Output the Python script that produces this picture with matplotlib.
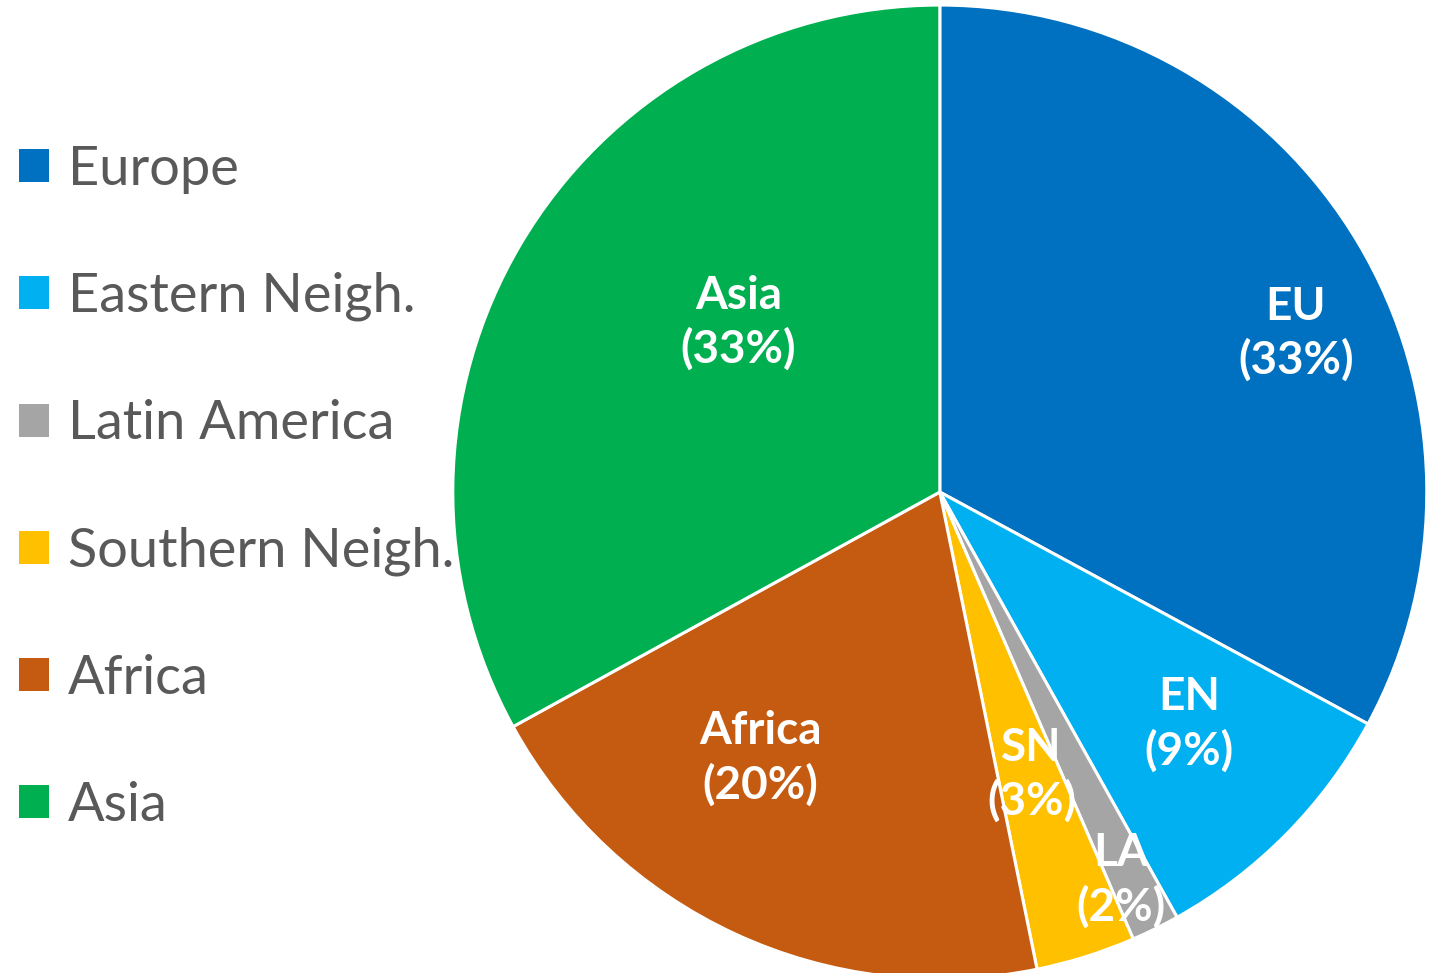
import numpy as np
import matplotlib
matplotlib.use('Agg')
import matplotlib.pyplot as plt
from matplotlib.patches import Patch

plt.rcParams['font.family'] = ['Lato', 'DejaVu Sans']

regions = ['Europe', 'Eastern Neigh.', 'Latin America', 'Southern Neigh.', 'Africa', 'Asia']
short = ['EU', 'EN', 'LA', 'SN', 'Africa', 'Asia']
shares = [32.9, 9.0, 1.6, 3.3, 20.2, 33.0]
pct_text = ['33%', '9%', '2%', '3%', '20%', '33%']
colors = ['#0070C0', '#00B0F0', '#A5A5A5', '#FFC000', '#C55A11', '#00B050']

# label placement: angle clockwise from top (deg), radius fraction
label_pos = [(66, 0.80), (133, 0.70), (155, 0.88), (162, 0.61), (214, 0.66), (310, 0.54)]

fig = plt.figure(figsize=(14.37, 9.73), dpi=100)
ax = fig.add_axes([0.654 - 0.339, 0.4943 - 0.5005, 0.678, 1.001])

wedges, _ = ax.pie(shares, colors=colors, startangle=90, counterclock=False,
                   wedgeprops=dict(edgecolor='white', linewidth=2.2))
ax.set_xlim(-1, 1)
ax.set_ylim(-1, 1)
ax.set_aspect('equal')

for (ang, rr), s, p in zip(label_pos, short, pct_text):
    t = np.deg2rad(90 - ang)
    ax.text(rr * np.cos(t), rr * np.sin(t), f'{s}\n({p})', ha='center', va='center',
            color='white', fontsize=33, fontweight='bold', linespacing=1.3)

handles = [Patch(facecolor=c, edgecolor='none') for c in colors]
leg = fig.legend(handles, regions, loc='center left', bbox_to_anchor=(0.0, 0.499),
                 frameon=False, fontsize=39, handlelength=0.55, handleheight=0.55,
                 handletextpad=0.35, labelspacing=1.44, borderaxespad=0.25,
                 borderpad=0.1)
for txt in leg.get_texts():
    txt.set_color('#595959')

fig.savefig('out.png', dpi=100)
